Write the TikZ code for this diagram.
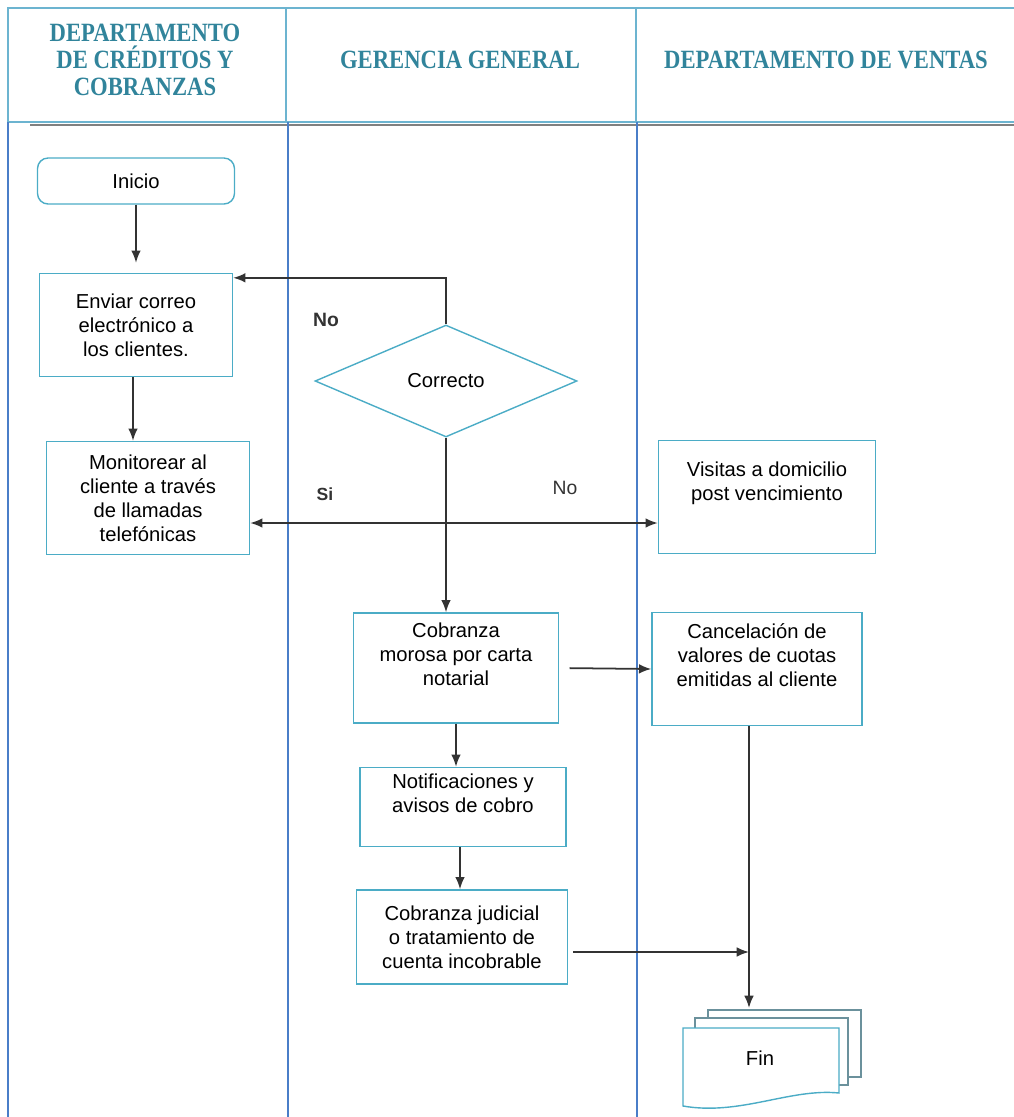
\documentclass[tikz,border=0pt]{standalone}
\usepackage{fontspec}
\setmainfont{Liberation Sans}
\newfontfamily\headfont[FakeStretch=0.86]{Liberation Serif}
\usetikzlibrary{shapes.geometric, positioning, arrows.meta, calc}

\definecolor{headteal}{HTML}{31849B}
\definecolor{boxblue}{HTML}{4BACC6}
\definecolor{laneblue}{HTML}{4A7EC8}
\definecolor{framecol}{HTML}{6CB4D0}
\definecolor{arrowgray}{HTML}{333333}

\begin{document}
\begin{tikzpicture}[
    x=0.02cm, y=-0.02cm,
    head/.style={font=\headfont\bfseries\fontsize{15}{15.5}\selectfont, text=headteal, align=center},
    box/.style={rectangle, draw=boxblue, thick, align=center, inner sep=2pt, font=\fontsize{11.5}{13.6}\selectfont},
    decision/.style={diamond, draw=boxblue, thick, inner sep=0pt, aspect=2.34, minimum width=5.24cm, minimum height=2.24cm, font=\fontsize{11.5}{13.6}\selectfont},
    arrow/.style={-{Latex[length=7pt, width=5.5pt]}, line width=1pt, draw=arrowgray},
    answer/.style={font=\fontsize{11}{13}\selectfont, text=arrowgray},
    lane/.style={draw=laneblue, line width=0.7pt},
]
\useasboundingbox (0,0) rectangle (1014,1117);

%% LANES
    \draw[framecol, line width=1.2pt] (1030,8) -- (8,8) -- (8,122) -- (1030,122);
    \draw[framecol, line width=1.2pt] (286,8) -- (286,122);
    \draw[framecol, line width=1.2pt] (636,8) -- (636,122);
    \draw[gray, line width=1.5pt] (30,125) -- (1014,125);
    \draw[lane] (8,122) -- (8,1117);
    \draw[lane] (288,122) -- (288,1117);
    \draw[lane] (637,122) -- (637,1117);

    \node[head] (creditos) at (145,60) {DEPARTAMENTO\\DE CRÉDITOS Y\\COBRANZAS};
    \node[head] (gerencia) at (460,60) {GERENCIA GENERAL};
    \node[head] (ventas)   at (826,60) {DEPARTAMENTO DE VENTAS};

%% MAIN LOGIC
    \node[box, rounded corners=6pt, minimum width=3.94cm, minimum height=0.92cm] (inicio) at (136,181) {Inicio};
    \node[box, minimum width=3.86cm, minimum height=2.06cm] (correo) at (136,325) {Enviar correo\\electrónico a\\los clientes.};
    \node[box, minimum width=4.06cm, minimum height=2.26cm] (monitoreo) at (148,498) {Monitorear al\\cliente a través\\de llamadas\\telefónicas};
    \node[decision] (correcto) at (446,381) {Correcto};
    \node[box, minimum width=4.34cm, minimum height=2.26cm] (visitas) at (767,497) {Visitas a domicilio\\post vencimiento\\[4pt]};
    \node[box, minimum width=4.10cm, minimum height=2.20cm] (carta) at (456,668) {Cobranza\\morosa por carta\\notarial\\[2pt]};
    \node[box, minimum width=4.20cm, minimum height=2.26cm] (cancelacion) at (757,669) {Cancelación de\\valores de cuotas\\emitidas al cliente\\[2pt]};
    \node[box, minimum width=4.12cm, minimum height=1.58cm] (avisos) at (463,807) {Notificaciones y\\avisos de cobro\\[2pt]};
    \node[box, minimum width=4.22cm, minimum height=1.88cm] (judicial) at (462,937) {Cobranza judicial\\o tratamiento de\\cuenta incobrable};

    % fin (varios documentos)
    \draw[draw=gray!60!boxblue, thick, fill=white] (708,1010) rectangle (861,1077);
    \draw[draw=gray!60!boxblue, thick, fill=white] (695,1018) rectangle (848,1085);
    \draw[draw=boxblue, thick, fill=white] (683,1028) -- (839,1028) -- (839,1093)
        .. controls (790,1088) and (740,1116) .. (683,1106) -- cycle;
    \node[font=\fontsize{11.5}{13.6}\selectfont] (fin) at (760,1058) {Fin};
    \coordinate (fintop) at (749,1008);
    \coordinate (cruce) at (446,523);

    \draw[arrow] (inicio.south) -- ([yshift=0.2cm]correo.north);
    \draw[arrow] (correo.south -| 133,0) -- (monitoreo.north -| 133,0);
    \draw[arrow] (correcto.north) |- ([yshift=-0.1cm]correo.north east);
    \node[answer, font=\bfseries\fontsize{11}{13}\selectfont] (no1) at (326,320) {No};
    \draw[arrow] (correcto.south) -- (correcto.south |- carta.north);
    \draw[arrow] (cruce) -- (cruce -| monitoreo.east);
    \draw[arrow] (cruce) -- (cruce -| visitas.west);
    \node[answer, font=\bfseries\fontsize{10}{12}\selectfont] (si) at (325,494) {Si};
    \node[answer] (no2) at (565,488) {No};
    \draw[arrow, shorten <=6pt] (carta.east) -- (cancelacion.west);
    \draw[arrow] (carta.south) -- (carta.south |- avisos.north);
    \draw[arrow] (avisos.south -| 460,0) -- (judicial.north -| 460,0);
    \draw[arrow, shorten <=3pt] ([yshift=-0.3cm]judicial.east) -- ([yshift=-0.3cm]judicial.east -| fintop);
    \draw[arrow] (cancelacion.south -| fintop) -- (fintop);

\end{tikzpicture}
\end{document}
